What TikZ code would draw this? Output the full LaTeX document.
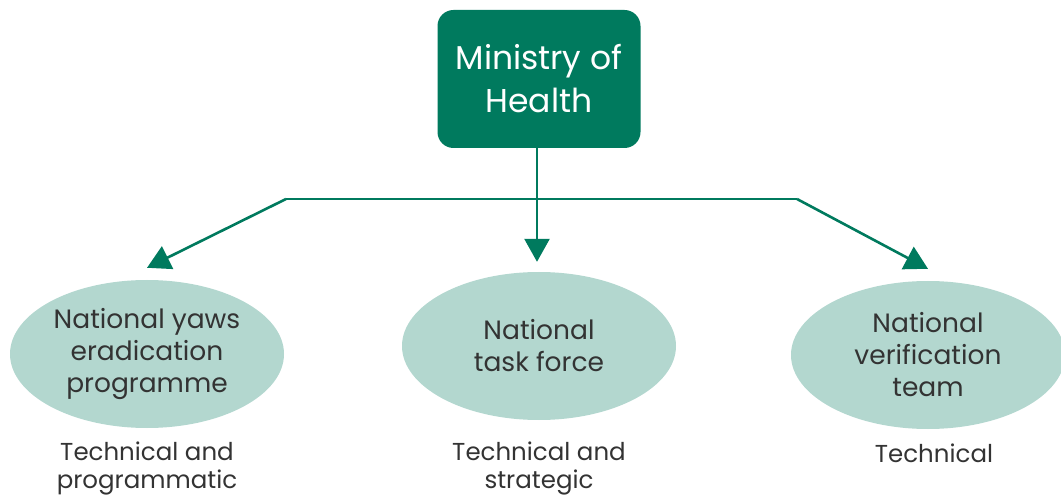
\documentclass[tikz,border=0pt]{standalone}
\usepackage{fontspec}
\setmainfont{Poppins}
\usetikzlibrary{arrows.meta,shapes.geometric,positioning}

\definecolor{mohgreen}{HTML}{007A5E}
\definecolor{bodyteal}{HTML}{B3D7CF}
\definecolor{labelgrey}{HTML}{333333}

\begin{document}
\begin{tikzpicture}[x=1pt,y=-1pt,
  ministry/.style={rectangle, rounded corners=16pt, fill=mohgreen, text=white,
    minimum width=203pt, minimum height=138pt, align=center,
    font=\fontsize{33}{43}\selectfont},
  body/.style={ellipse, fill=bodyteal, text=labelgrey, inner sep=0pt,
    minimum width=274pt, minimum height=148pt, align=center,
    font=\fontsize{26.5}{32}\selectfont},
  role/.style={text=labelgrey, align=center, inner sep=0pt,
    font=\fontsize{24.5}{28}\selectfont},
  trunk/.style={draw=mohgreen, line width=2.6pt},
  link/.style={trunk, -{Triangle[length=23pt,width=25pt]}}]

  % Page frame
  \useasboundingbox (0,0) rectangle (1061,497);

  % Top of the structure
  \node[ministry] (moh) at (539,79) {Ministry of\\Health};

  % The three bodies under it
  \node[body] (nyep) at (147,354) {National yaws\\eradication\\programme};
  \node[body] (ntf) at (539,346) {National\\task force};
  \node[body] (nvt) at (928,355) {National\\verification\\team};

  % Their roles
  \node[role, below=13pt of nyep] (rnyep) {Technical and\\programmatic};
  \node[role, below=21pt of ntf] (rntf) {Technical and\\strategic};
  \node[role, below=14pt of nvt, xshift=6pt] (rnvt) {Technical};

  % Branching points on the horizontal bar
  \coordinate (jl) at (286,199);
  \coordinate (jr) at (797,199);

  % Connectors
  \draw[trunk] (jl) -- (jr);
  \draw[link] (moh.south -| 537,0) -- ([yshift=10pt]ntf.north -| 537,0);
  \draw[link] (jl) -- ([yshift=12pt]nyep.north);
  \draw[link] (jr) -- ([yshift=12pt]nvt.north);

\end{tikzpicture}
\end{document}
